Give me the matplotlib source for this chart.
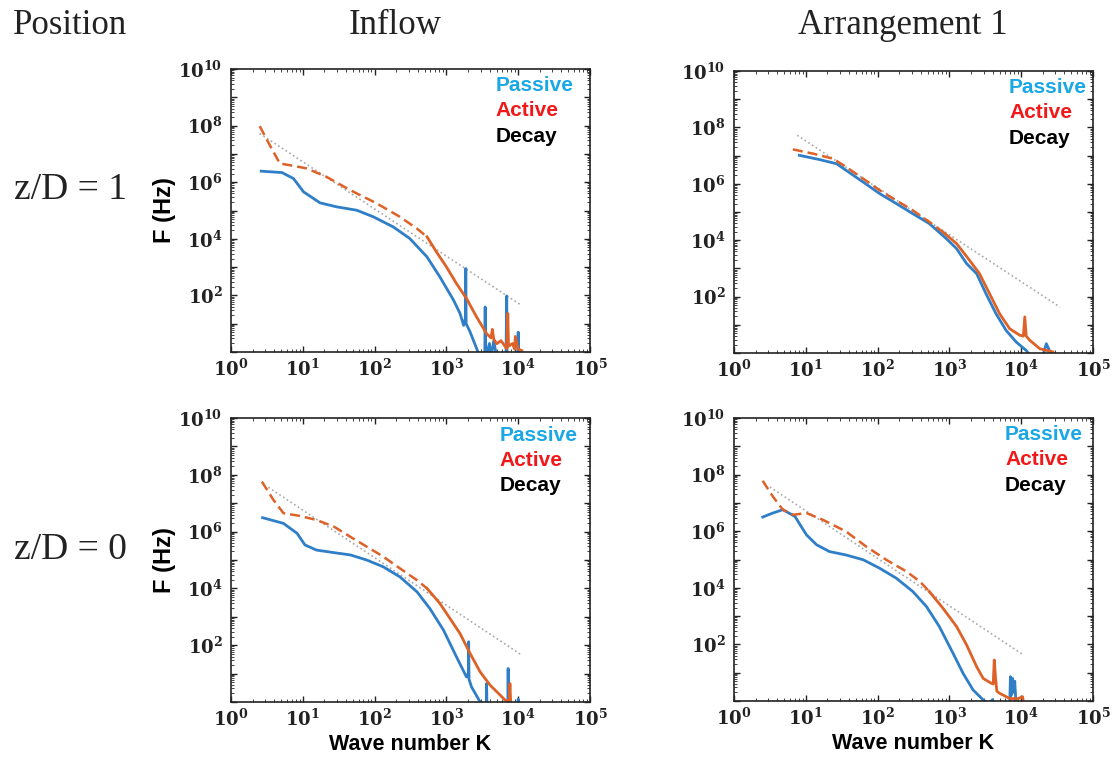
import numpy as np
import matplotlib
matplotlib.use('Agg')
import matplotlib.pyplot as plt
from matplotlib.ticker import LogLocator, FuncFormatter, NullFormatter

plt.rcParams['mathtext.fontset'] = 'custom'
plt.rcParams['mathtext.bf'] = 'DejaVu Serif:bold'
plt.rcParams['mathtext.rm'] = 'DejaVu Serif'

# all values as log10(K), log10(F)
# ---- z/D = 1, Inflow
tl_pas_k = [0.42, 0.71, 0.87, 1.01, 1.24, 1.47, 1.75, 1.98, 2.26, 2.49, 2.73, 2.91, 3.10, 3.19, 3.24,
            3.265, 3.27, 3.275, 3.33, 3.44, 3.50, 3.535, 3.54, 3.545, 3.60, 3.62, 3.66, 3.70, 3.83, 3.84, 3.845,
            3.90, 3.99, 4.0, 4.01, 4.03]
tl_pas_f = [6.39, 6.34, 6.13, 5.66, 5.27, 5.13, 5.01, 4.78, 4.42, 4.01, 3.36, 2.65, 1.83, 1.36, 0.94,
            1.2, 2.95, 1.0, 0.71, 0.0, -0.3, -0.2, 1.59, -0.2, 0.3, -0.2, 0.4, -0.2, -0.2, 1.98, -0.2,
            -0.2, -0.2, 0.7, -0.2, -0.3]
tl_act_k = [0.40, 0.54, 0.68, 0.82, 1.05, 1.33, 1.66, 2.03, 2.35, 2.59, 2.73]
tl_act_f = [7.98, 7.31, 6.66, 6.60, 6.49, 6.19, 5.72, 5.25, 4.78, 4.36, 4.07]
tl_act2_k = [2.73, 2.86, 3.00, 3.14, 3.28, 3.42, 3.56, 3.62, 3.64, 3.66, 3.70, 3.76, 3.84, 3.855, 3.86,
             3.865, 3.92, 3.95, 3.96, 4.0, 4.05]
tl_act2_f = [4.07, 3.54, 3.01, 2.42, 1.89, 1.24, 0.65, 0.5, 0.8, 0.45, 0.29, 0.4, 0.12, 1.36, 0.8,
             0.2, 0.3, 0.1, 0.55, 0.1, 0.05]
tl_dec_k = [0.40, 4.05]
tl_dec_f = [7.72, 1.64]

# ---- z/D = 1, Arrangement 1
tr_pas_k = [0.91, 1.19, 1.43, 1.56, 1.80, 2.03, 2.26, 2.49, 2.72, 2.96, 3.10, 3.24, 3.38, 3.51, 3.65,
            3.79, 3.93, 4.07, 4.16, 4.30, 4.35, 4.40, 4.45]
tr_pas_f = [7.01, 6.86, 6.71, 6.48, 6.06, 5.65, 5.30, 4.94, 4.59, 4.05, 3.70, 3.17, 2.81, 2.10, 1.39,
            0.80, 0.39, 0.09, -0.2, -0.1, 0.33, 0.05, -0.1]
tr_act_k = [0.82, 1.10, 1.38, 1.56, 1.80, 2.03, 2.26, 2.49, 2.72, 2.91]
tr_act_f = [7.22, 7.07, 6.89, 6.60, 6.18, 5.77, 5.41, 5.06, 4.65, 4.29]
tr_act2_k = [2.91, 3.10, 3.28, 3.42, 3.56, 3.70, 3.84, 3.98, 4.03, 4.05, 4.07, 4.12, 4.26, 4.44]
tr_act2_f = [4.29, 3.88, 3.29, 2.81, 2.10, 1.39, 0.86, 0.63, 0.6, 1.28, 0.6, 0.45, 0.15, 0.04]
tr_dec_k = [0.88, 4.54]
tr_dec_f = [7.72, 1.63]

# ---- z/D = 0, Inflow
bl_pas_k = [0.44, 0.73, 0.92, 1.03, 1.19, 1.43, 1.66, 1.89, 2.12, 2.35, 2.59, 2.77, 2.96, 3.14, 3.28,
            3.305, 3.31, 3.315, 3.35, 3.47, 3.55, 3.555, 3.56, 3.565, 3.85, 3.855, 3.86, 3.865, 3.99, 4.0, 4.01]
bl_pas_f = [6.49, 6.29, 5.94, 5.53, 5.35, 5.26, 5.18, 5.00, 4.76, 4.41, 3.88, 3.29, 2.53, 1.59, 0.88,
            1.0, 2.12, 0.8, 0.53, 0.0, -0.2, -0.2, 0.65, -0.2, -0.2, -0.2, 1.18, -0.2, -0.2, 0.1, -0.2]
bl_act_k = [0.43, 0.59, 0.73, 0.96, 1.19, 1.43, 1.66, 1.89, 2.12, 2.35, 2.59, 2.73]
bl_act_f = [7.76, 7.12, 6.65, 6.55, 6.41, 6.18, 5.82, 5.47, 5.12, 4.71, 4.29, 4.00]
bl_act2_k = [2.73, 2.91, 3.05, 3.19, 3.33, 3.47, 3.61, 3.75, 3.82, 3.875, 3.885, 3.89, 3.90]
bl_act2_f = [4.00, 3.47, 2.94, 2.41, 1.71, 1.06, 0.59, 0.24, 0.06, 0.05, 0.65, 0.3, -0.2]
bl_dec_k = [0.52, 4.05]
bl_dec_f = [7.56, 1.65]

# ---- z/D = 0, Arrangement 1
br_pas_k = [0.40, 0.54, 0.68, 0.85, 0.92, 1.01, 1.15, 1.33, 1.56, 1.80, 2.03, 2.26, 2.49, 2.68, 2.86,
            3.05, 3.19, 3.33, 3.47, 3.55, 3.60, 3.62, 3.84, 3.85, 3.86, 3.88, 3.90, 3.91, 3.93]
br_pas_f = [6.50, 6.64, 6.76, 6.52, 6.23, 5.87, 5.52, 5.28, 5.16, 4.99, 4.69, 4.34, 3.87, 3.34, 2.63,
            1.69, 0.98, 0.39, 0.04, -0.1, 0.05, -0.2, -0.2, 0.86, 0.2, 0.8, 0.3, 0.7, -0.2]
br_act_k = [0.40, 0.54, 0.68, 0.82, 1.01, 1.24, 1.56, 1.84, 2.12, 2.40, 2.59, 2.72]
br_act_f = [7.78, 7.23, 6.76, 6.58, 6.64, 6.40, 5.99, 5.46, 4.99, 4.58, 4.22, 3.87]
br_act2_k = [2.72, 2.91, 3.10, 3.24, 3.38, 3.47, 3.58, 3.61, 3.625, 3.64, 3.66, 3.70, 3.84, 3.95, 4.02, 4.04]
br_act2_f = [3.87, 3.28, 2.63, 1.98, 1.21, 0.80, 0.63, 0.6, 1.45, 0.9, 0.35, 0.27, 0.09, 0.08, 0.15, -0.2]
br_dec_k = [0.50, 4.03]
br_dec_f = [7.56, 1.63]

panels = [
    (tl_pas_k, tl_pas_f, tl_act_k, tl_act_f, tl_act2_k, tl_act2_f, tl_dec_k, tl_dec_f),
    (tr_pas_k, tr_pas_f, tr_act_k, tr_act_f, tr_act2_k, tr_act2_f, tr_dec_k, tr_dec_f),
    (bl_pas_k, bl_pas_f, bl_act_k, bl_act_f, bl_act2_k, bl_act2_f, bl_dec_k, bl_dec_f),
    (br_pas_k, br_pas_f, br_act_k, br_act_f, br_act2_k, br_act2_f, br_dec_k, br_dec_f),
]
legend_x = [0.738, 0.766, 0.749, 0.755]

pas_col = '#2E7EC8'
act_col = '#DE6128'

fig = plt.figure(figsize=(11.15, 7.58), dpi=100)
rects = [
    [231/1115, 1-352/758, 359/1115, 283/758],
    [734/1115, 1-353/758, 359/1115, 282/758],
    [231/1115, 1-702/758, 359/1115, 284/758],
    [734/1115, 1-701/758, 359/1115, 283/758],
]


def xfmt(v, pos):
    e = int(round(np.log10(v)))
    return r'$\mathbf{10^{%d}}$' % e


def yfmt(v, pos):
    e = int(round(np.log10(v)))
    if e == 0 or e % 2:
        return ''
    return r'$\mathbf{10^{%d}}$' % e


for i, (pk, pf, ak, af, a2k, a2f, dk, df) in enumerate(panels):
    ax = fig.add_axes(rects[i])
    ax.set_xscale('log')
    ax.set_yscale('log')
    ax.plot(10**np.array(dk), 10**np.array(df), ls=':', color='#a8a8a8', lw=1.2)
    ax.plot(10**np.array(pk), 10**np.array(pf), color=pas_col, lw=2)
    ax.plot(10**np.array(ak), 10**np.array(af), color=act_col, lw=1.8, ls=(0, (4, 2)))
    ax.plot(10**np.array(a2k), 10**np.array(a2f), color=act_col, lw=2)
    ax.set_xlim(1, 1e5)
    ax.set_ylim(1, 1e10)

    ax.xaxis.set_major_locator(LogLocator(base=10, numticks=10))
    ax.xaxis.set_minor_locator(LogLocator(base=10, subs=np.arange(2, 10), numticks=100))
    ax.yaxis.set_major_locator(LogLocator(base=10, numticks=20))
    ax.yaxis.set_minor_locator(LogLocator(base=10, subs=np.arange(2, 10), numticks=100))
    ax.xaxis.set_major_formatter(FuncFormatter(xfmt))
    ax.yaxis.set_major_formatter(FuncFormatter(yfmt))
    ax.xaxis.set_minor_formatter(NullFormatter())
    ax.yaxis.set_minor_formatter(NullFormatter())
    ax.tick_params(which='both', direction='in', top=True, right=True, labelsize=13, colors='#222222')
    ax.tick_params(which='major', length=4, width=1)
    ax.tick_params(which='minor', length=2, width=0.6)
    ax.tick_params(axis='x', pad=5)
    ax.tick_params(axis='y', pad=6)
    for s in ax.spines.values():
        s.set_linewidth(1.2)
        s.set_color('#222222')

    lx = legend_x[i]
    ax.text(lx, 0.94, 'Passive', transform=ax.transAxes, color='#1AA7E6', fontsize=15,
            fontweight='bold', family='Liberation Sans', va='center')
    ax.text(lx, 0.852, 'Active', transform=ax.transAxes, color='#F01818', fontsize=15,
            fontweight='bold', family='Liberation Sans', va='center')
    ax.text(lx, 0.762, 'Decay', transform=ax.transAxes, color='black', fontsize=15,
            fontweight='bold', family='Liberation Sans', va='center')

    if i in (0, 2):
        ax.set_ylabel('F (Hz)', fontsize=17, fontweight='bold', family='Liberation Sans')
        ax.yaxis.label.set_va('center')
        ax.yaxis.set_label_coords(-0.184, 0.5)
    if i in (2, 3):
        ax.set_xlabel('Wave number K', fontsize=15.5, fontweight='bold', family='Liberation Sans')
        ax.xaxis.label.set_va('center')
        ax.xaxis.set_label_coords(0.5, -0.151)

hdr = dict(family='Liberation Serif', fontsize=25, color='#222222', ha='center', va='center')
fig.text(70/1115, 1-25/758, 'Position', **hdr)
fig.text(395/1115, 1-25/758, 'Inflow', **hdr)
fig.text(903/1115, 1-25/758, 'Arrangement 1', **hdr)
hdr['fontsize'] = 27
fig.text(70/1115, 1-190/758, 'z/D = 1', **hdr)
fig.text(70/1115, 1-550/758, 'z/D = 0', **hdr)

fig.savefig('out.png', dpi=100)
